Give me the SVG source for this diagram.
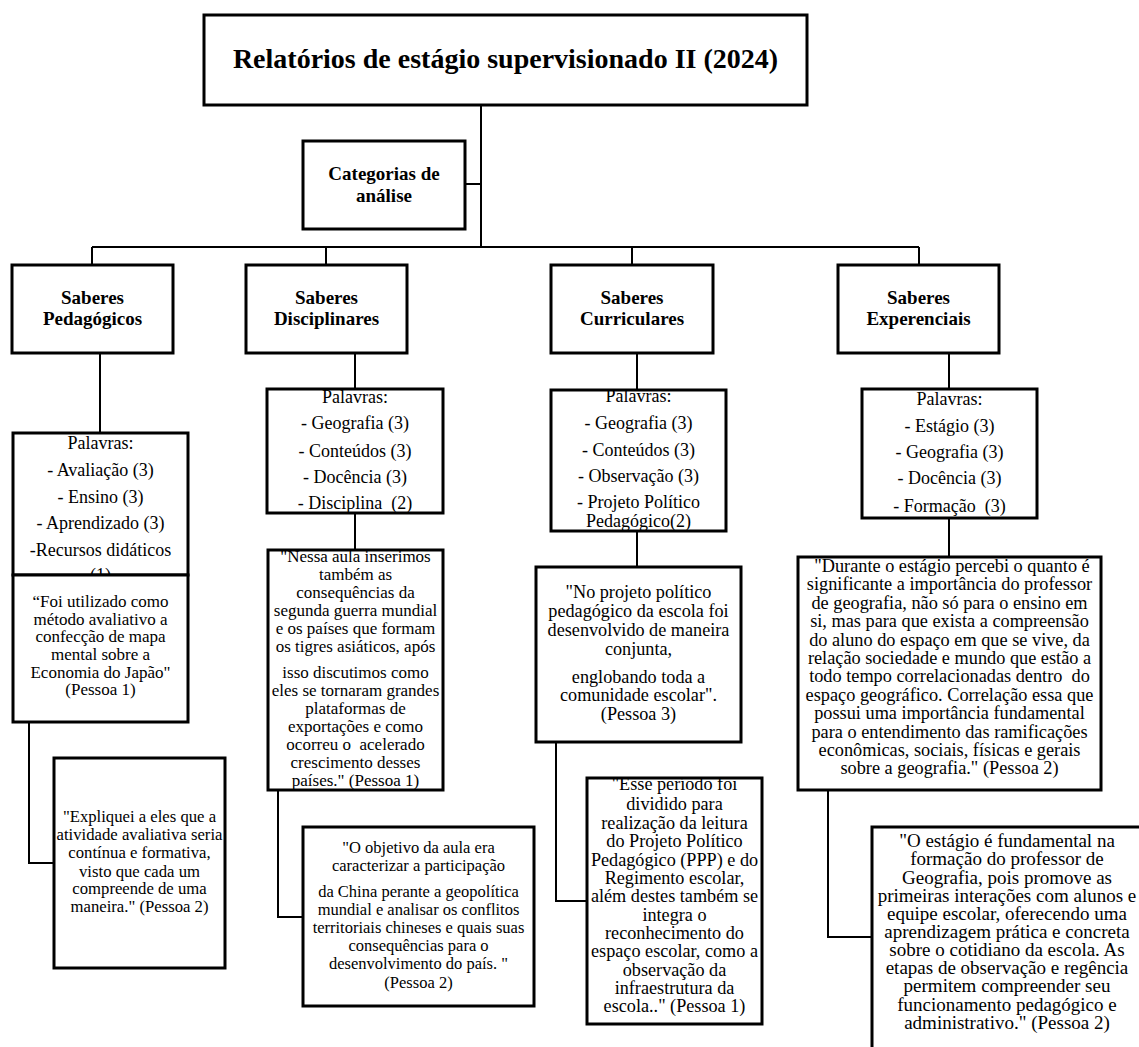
<svg xmlns="http://www.w3.org/2000/svg" width="1139" height="1047" viewBox="0 0 1139 1047" font-family="'Liberation Serif', 'Times New Roman', Times, 'DejaVu Serif', serif">
<style>
.box{fill:#fff;stroke:#000;stroke-width:3}
.conn{fill:none;stroke:#000;stroke-width:2}
.t{font-family:'Liberation Serif','Times New Roman',Times,'DejaVu Serif',serif;text-anchor:middle;fill:#000}
.h{font-weight:bold;font-size:19px}
.w{font-size:18px}
</style>
<defs>
<clipPath id="cPalPed"><rect x="14" y="434" width="173" height="140"/></clipPath>
<clipPath id="cPalDis"><rect x="268" y="390" width="174" height="122"/></clipPath>
<clipPath id="cPalCur"><rect x="552" y="391" width="173" height="139"/></clipPath>
<clipPath id="cPalExp"><rect x="863" y="390" width="173" height="127"/></clipPath>
<clipPath id="cNessa"><rect x="269" y="551" width="173" height="238"/></clipPath>
<clipPath id="cEsse"><rect x="588" y="779" width="173" height="244"/></clipPath>
</defs>
<rect width="1139" height="1047" fill="#fff"/>
<g id="connectors">
<path class="conn" d="M481,105 V247"/>
<path class="conn" d="M465,184 H481"/>
<path class="conn" d="M92,247 H919"/>
<path class="conn" d="M92,247 V265 M326,247 V265 M632,247 V265 M919,247 V265"/>
<path class="conn" d="M100,353 V433"/>
<path class="conn" d="M29,722 V863 H54"/>
<path class="conn" d="M355,353 V389 M355,513 V550"/>
<path class="conn" d="M278,790 V917 H303"/>
<path class="conn" d="M637,353 V390 M637,531 V567"/>
<path class="conn" d="M556,742 V901 H587"/>
<path class="conn" d="M949,353 V389 M949,518 V557"/>
<path class="conn" d="M828,790 V937 H872"/>
</g>
<g id="title">
<rect class="box" x="204" y="15" width="603" height="90"/>
<text class="t" x="505.5" y="68" font-size="28" font-weight="bold">Relatórios de estágio supervisionado II (2024)</text>
</g>
<g id="categorias">
<rect class="box" x="303" y="141" width="162" height="88"/>
<text class="t h" x="384" y="180">Categorias de</text>
<text class="t h" x="384" y="202">análise</text>
</g>
<g id="saberes-pedagogicos">
<rect class="box" x="12" y="265" width="161" height="88"/>
<text class="t h" x="92.5" y="304">Saberes</text>
<text class="t h" x="92.5" y="325">Pedagógicos</text>
</g>
<g id="saberes-disciplinares">
<rect class="box" x="246" y="265" width="161" height="88"/>
<text class="t h" x="326.5" y="304">Saberes</text>
<text class="t h" x="326.5" y="325">Disciplinares</text>
</g>
<g id="saberes-curriculares">
<rect class="box" x="551" y="265" width="162" height="88"/>
<text class="t h" x="632" y="304">Saberes</text>
<text class="t h" x="632" y="325">Curriculares</text>
</g>
<g id="saberes-experenciais">
<rect class="box" x="838" y="265" width="161" height="88"/>
<text class="t h" x="918.5" y="304">Saberes</text>
<text class="t h" x="918.5" y="325">Experenciais</text>
</g>
<g id="palavras-pedagogicos">
<rect class="box" x="13" y="433" width="175" height="142"/>
<g clip-path="url(#cPalPed)">
<text class="t w" x="100.5" y="449">Palavras:</text>
<text class="t w" x="100.5" y="476">- Avaliação (3)</text>
<text class="t w" x="100.5" y="502.5">- Ensino (3)</text>
<text class="t w" x="100.5" y="529">- Aprendizado (3)</text>
<text class="t w" x="100.5" y="556">-Recursos didáticos</text>
<text class="t w" x="100.5" y="581">(1)</text>
</g>
</g>
<g id="quote-foi">
<rect class="box" x="13" y="575" width="175" height="147"/>
<text class="t" font-size="17" x="100.5" y="607">“Foi utilizado como</text>
<text class="t" font-size="17" x="100.5" y="624.5">método avaliativo a</text>
<text class="t" font-size="17" x="100.5" y="642">confecção de mapa</text>
<text class="t" font-size="17" x="100.5" y="660">mental sobre a</text>
<text class="t" font-size="17" x="100.5" y="677.5">Economia do Japão"</text>
<text class="t" font-size="17" x="100.5" y="695">(Pessoa 1)</text>
</g>
<g id="quote-expliquei">
<rect class="box" x="54" y="758" width="171" height="210"/>
<text class="t" font-size="16.7" x="139.5" y="822">"Expliquei a eles que a</text>
<text class="t" font-size="16.7" x="139.5" y="840">atividade avaliativa seria</text>
<text class="t" font-size="16.7" x="139.5" y="858.3">contínua e formativa,</text>
<text class="t" font-size="16.7" x="139.5" y="876.7">visto que cada um</text>
<text class="t" font-size="16.7" x="139.5" y="894">compreende de uma</text>
<text class="t" font-size="16.7" x="139.5" y="912.3">maneira." (Pessoa 2)</text>
</g>
<g id="palavras-disciplinares">
<rect class="box" x="267" y="389" width="176" height="124"/>
<g clip-path="url(#cPalDis)">
<text class="t w" x="355" y="402.5">Palavras:</text>
<text class="t w" x="355" y="429">- Geografia (3)</text>
<text class="t w" x="355" y="456.5">- Conteúdos (3)</text>
<text class="t w" x="355" y="483">- Docência (3)</text>
<text class="t w" x="355" y="509" xml:space="preserve">- Disciplina  (2)</text>
</g>
</g>
<g id="quote-nessa">
<rect class="box" x="268" y="550" width="175" height="240"/>
<g clip-path="url(#cNessa)" font-size="17">
<text class="t" x="355.5" y="562">"Nessa aula inserimos</text>
<text class="t" x="355.5" y="580">também as</text>
<text class="t" x="355.5" y="598">consequências da</text>
<text class="t" x="355.5" y="616">segunda guerra mundial</text>
<text class="t" x="355.5" y="634">e os países que formam</text>
<text class="t" x="355.5" y="652">os tigres asiáticos, após</text>
<text class="t" x="355.5" y="678">isso discutimos como</text>
<text class="t" x="355.5" y="696">eles se tornaram grandes</text>
<text class="t" x="355.5" y="714">plataformas de</text>
<text class="t" x="355.5" y="732">exportações e como</text>
<text class="t" x="355.5" y="750" xml:space="preserve">ocorreu o  acelerado</text>
<text class="t" x="355.5" y="768">crescimento desses</text>
<text class="t" x="355.5" y="786">países." (Pessoa 1)</text>
</g>
</g>
<g id="quote-objetivo">
<rect class="box" x="303" y="827" width="231" height="179"/>
<g font-size="16.5">
<text class="t" x="418.5" y="853">"O objetivo da aula era</text>
<text class="t" x="418.5" y="871">caracterizar a participação</text>
<text class="t" x="418.5" y="897">da China perante a geopolítica</text>
<text class="t" x="418.5" y="915">mundial e analisar os conflitos</text>
<text class="t" x="418.5" y="933">territoriais chineses e quais suas</text>
<text class="t" x="418.5" y="951">consequências para o</text>
<text class="t" x="418.5" y="969">desenvolvimento do país. "</text>
<text class="t" x="418.5" y="988">(Pessoa 2)</text>
</g>
</g>
<g id="palavras-curriculares">
<rect class="box" x="551" y="390" width="175" height="141"/>
<g clip-path="url(#cPalCur)">
<text class="t w" x="638.5" y="401.7">Palavras:</text>
<text class="t w" x="638.5" y="429">- Geografia (3)</text>
<text class="t w" x="638.5" y="455.7">- Conteúdos (3)</text>
<text class="t w" x="638.5" y="481.7">- Observação (3)</text>
<text class="t w" x="638.5" y="508">- Projeto Político</text>
<text class="t w" x="638.5" y="526.7">Pedagógico(2)</text>
</g>
</g>
<g id="quote-projeto">
<rect class="box" x="536" y="567" width="205" height="175"/>
<g font-size="18.2">
<text class="t" x="638.5" y="597.7">"No projeto político</text>
<text class="t" x="638.5" y="616.7">pedagógico da escola foi</text>
<text class="t" x="638.5" y="636">desenvolvido de maneira</text>
<text class="t" x="638.5" y="655">conjunta,</text>
<text class="t" x="638.5" y="682.7">englobando toda a</text>
<text class="t" x="638.5" y="701">comunidade escolar".</text>
<text class="t" x="638.5" y="720">(Pessoa 3)</text>
</g>
</g>
<g id="quote-esse">
<rect class="box" x="587" y="778" width="175" height="246"/>
<g clip-path="url(#cEsse)" font-size="18.2">
<text class="t" x="674.5" y="790">"Esse período foi</text>
<text class="t" x="674.5" y="810">dividido para</text>
<text class="t" x="674.5" y="829">realização da leitura</text>
<text class="t" x="674.5" y="847">do Projeto Político</text>
<text class="t" x="674.5" y="866">Pedagógico (PPP) e do</text>
<text class="t" x="674.5" y="884">Regimento escolar,</text>
<text class="t" x="674.5" y="902">além destes também se</text>
<text class="t" x="674.5" y="921">integra o</text>
<text class="t" x="674.5" y="939">reconhecimento do</text>
<text class="t" x="674.5" y="957">espaço escolar, como a</text>
<text class="t" x="674.5" y="976">observação da</text>
<text class="t" x="674.5" y="994">infraestrutura da</text>
<text class="t" x="674.5" y="1012">escola.." (Pessoa 1)</text>
</g>
</g>
<g id="palavras-experenciais">
<rect class="box" x="862" y="389" width="175" height="129"/>
<g clip-path="url(#cPalExp)">
<text class="t w" x="949.5" y="405">Palavras:</text>
<text class="t w" x="949.5" y="431.7">- Estágio (3)</text>
<text class="t w" x="949.5" y="458">- Geografia (3)</text>
<text class="t w" x="949.5" y="484">- Docência (3)</text>
<text class="t w" x="949.5" y="511.7" xml:space="preserve">- Formação  (3)</text>
</g>
</g>
<g id="quote-durante">
<rect class="box" x="798" y="557" width="303" height="233"/>
<g font-size="18.3">
<text class="t" x="952" y="572">"Durante o estágio percebi o quanto é</text>
<text class="t" x="949.5" y="590">significante a importância do professor</text>
<text class="t" x="949.5" y="608.5">de geografia, não só para o ensino em</text>
<text class="t" x="949.5" y="627">si, mas para que exista a compreensão</text>
<text class="t" x="949.5" y="645.5">do aluno do espaço em que se vive, da</text>
<text class="t" x="949.5" y="664">relação sociedade e mundo que estão a</text>
<text class="t" x="949.5" y="682" xml:space="preserve">todo tempo correlacionadas dentro  do</text>
<text class="t" x="949.5" y="700.5">espaço geográfico. Correlação essa que</text>
<text class="t" x="949.5" y="719">possui uma importância fundamental</text>
<text class="t" x="949.5" y="737.5">para o entendimento das ramificações</text>
<text class="t" x="949.5" y="756">econômicas, sociais, físicas e gerais</text>
<text class="t" x="949.5" y="774">sobre a geografia." (Pessoa 2)</text>
</g>
</g>
<g id="quote-estagio">
<rect class="box" x="872" y="827" width="320" height="260"/>
<g font-size="19">
<text class="t" x="1007" y="847">"O estágio é fundamental na</text>
<text class="t" x="1007" y="865.3">formação do professor de</text>
<text class="t" x="1007" y="883.5">Geografia, pois promove as</text>
<text class="t" x="1007" y="901.7">primeiras interações com alunos e</text>
<text class="t" x="1007" y="920">equipe escolar, oferecendo uma</text>
<text class="t" x="1007" y="938.3">aprendizagem prática e concreta</text>
<text class="t" x="1007" y="956">sobre o cotidiano da escola. As</text>
<text class="t" x="1007" y="974">etapas de observação e regência</text>
<text class="t" x="1007" y="992.3">permitem compreender seu</text>
<text class="t" x="1007" y="1010.7">funcionamento pedagógico e</text>
<text class="t" x="1007" y="1029">administrativo." (Pessoa 2)</text>
</g>
</g>
</svg>
